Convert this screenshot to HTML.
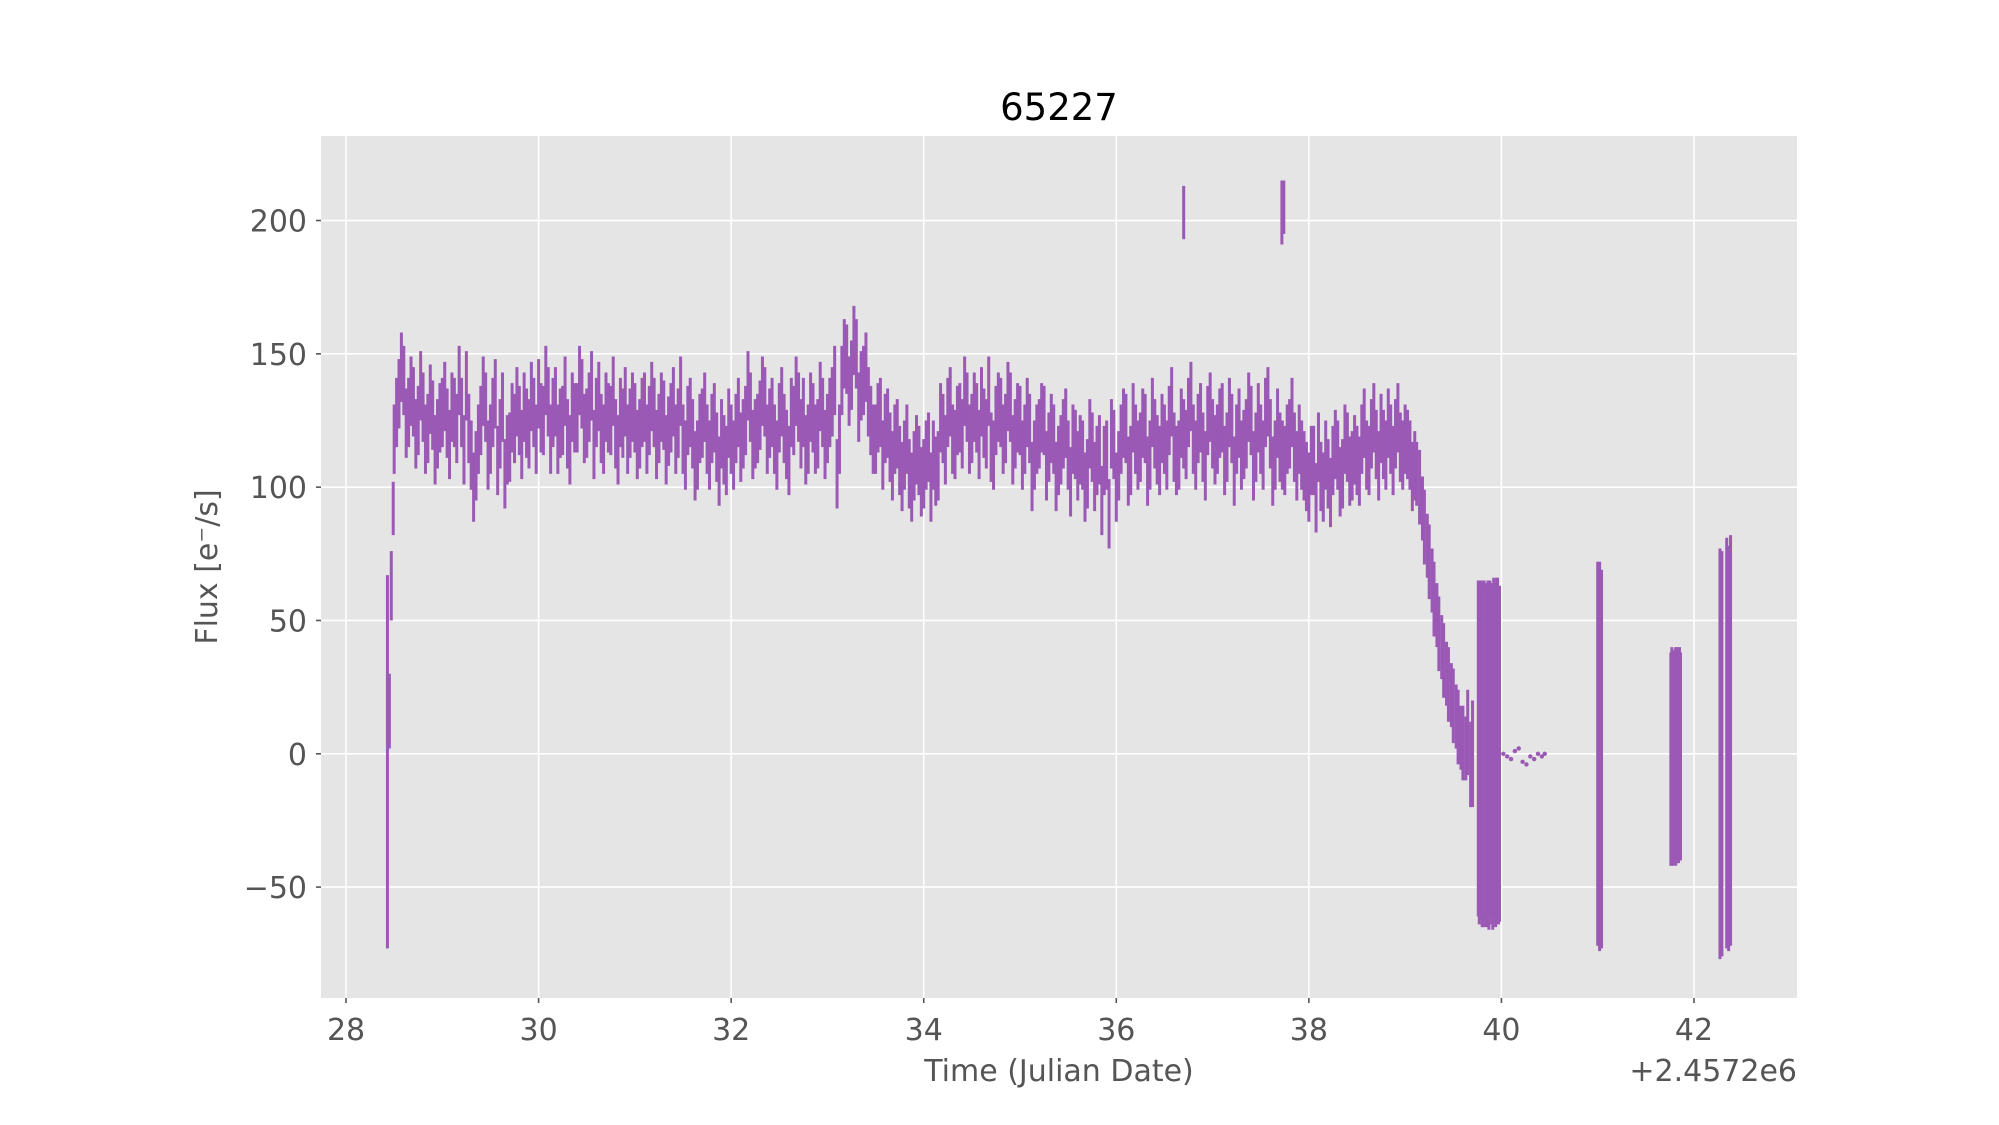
<!DOCTYPE html>
<html><head><meta charset="utf-8"><style>
html,body{margin:0;padding:0;background:#fff;}
svg{display:block;font-family:"DejaVu Sans","Liberation Sans",sans-serif;}
</style></head><body>
<svg id="chart" width="1999" height="1125" viewBox="0 0 1999 1125">
<rect x="0" y="0" width="1999" height="1125" fill="#fff"/>
<rect x="321" y="136" width="1476" height="862" fill="#e5e5e5"/>
<g id="grid"></g><g id="ticks"></g><g id="marks"></g>
<text x="1059" y="120" font-size="37" text-anchor="middle" fill="#000">65227</text>
<text x="1059" y="1081" font-size="30" text-anchor="middle" fill="#555">Time (Julian Date)</text>
<text x="1797" y="1081" font-size="30" text-anchor="end" fill="#555">+2.4572e6</text>
<text x="0" y="0" font-size="30" text-anchor="middle" fill="#555" transform="translate(217,567) rotate(-90)">Flux [e⁻/s]</text>
</svg>
<script>
const xTicks=[28,30,32,34,36,38,40,42];
const yTicks=[-50,0,50,100,150,200];
const yTickLabels=["\u221250","0","50","100","150","200"];
const mainFlux=[118,135,140,128,132,125,130,122,127,120,
128,124,130,122,128,138,112,108,125,130,
118,135,120,105,115,122,125,130,120,128,
135,125,132,128,118,125,120,130,126,135,
124,138,128,122,130,125,120,128,132,124,
126,120,130,125,128,122,127,121,132,124,
118,125,120,112,124,118,122,115,120,110,
118,122,115,125,130,120,127,132,124,118,
126,122,110,125,130,128,118,126,120,128,
122,132,105,140,148,142,150,138,145,125,
118,128,122,115,118,110,112,105,108,110,
105,115,112,108,122,128,118,125,120,130,
122,126,132,120,115,125,128,122,130,120,
125,118,122,112,120,125,115,118,110,120,
112,118,108,112,105,115,110,95,112,120,
100,118,122,110,118,115,122,112,120,110,
118,125,115,112,120,128,118,122,115,125,
120,118,126,115,122,118,112,120,125,115,
118,128,120,112,115,110,120,115,118,108,
100,110,115,100,105,110,112,105,115,108,
110,118,112,120,116,122,112,118,120,115,
118,112,108];
const midFlux=[128,145,124,136,120,138,118,133,114,126,
134,116,128,140,114,122,100,118,136,112,
128,110,130,114,126,132,116,124,134,118,
126,140,118,132,124,136,114,126,140,122,
130,116,134,118,126,136,114,124,118,130,
116,128,118,134,116,130,114,126,118,136,
112,128,108,122,130,112,126,106,114,124,
112,128,120,138,116,122,136,118,128,112,
132,116,128,136,120,114,130,118,134,116,
128,140,118,150,136,155,130,140,132,118,
126,112,124,108,120,104,118,100,114,102,
112,100,106,126,114,132,116,126,136,118,
130,116,124,136,112,130,118,134,114,126,
112,128,104,118,126,108,122,104,114,124,
102,116,114,100,120,104,114,110,90,116,
108,124,106,126,112,124,106,128,114,122,
112,132,110,124,116,134,112,126,108,130,
114,124,110,128,106,124,116,130,108,126,
112,132,106,124,112,118,128,108,112,104,
110,96,104,112,98,116,102,118,106,114,
106,124,110,126,108,116,124,110,126,112,
116,104];
const mainStart=28.50, mainStep=0.05, midStart=28.525;
const extraTimes=[28.43,28.45,28.47,28.49,36.70,37.72,37.74,
39.12,39.15,39.18,39.20,39.23,39.25,39.28,39.30,39.33,39.35,39.38,39.40,39.43,39.45,39.48,39.50,39.53,39.55,39.58,39.60,39.63,39.65,39.68,39.70,
39.76,39.77,39.78,39.79,39.80,39.81,39.82,39.83,39.84,39.85,39.86,39.87,39.88,39.89,39.90,39.91,39.92,39.93,39.94,39.95,39.96,39.97,39.98,
40.02,40.06,40.10,40.14,40.18,40.22,40.26,40.30,40.34,40.38,40.42,40.45,
41.00,41.02,41.04,41.76,41.77,41.78,41.79,41.80,41.81,41.82,41.83,41.84,41.85,41.86,42.27,42.29,42.34,42.36,42.38];
const extraFlux=[-3,16,63,92,203,203,205,
105,100,92,85,78,72,65,58,52,45,40,35,30,26,22,18,14,10,6,4,2,8,-4,0,
2,0,3,1,-1,0,2,0,-1,1,0,-2,2,1,0,-1,3,0,-2,1,2,-1,0,
0,-1,-2,1,2,-3,-4,-1,-2,0,-1,0,
0,-1,-2,-2,-1,-2,-1,-1,-1,0,-2,-1,0,-1,0,0,4,2,5];
const extraErr=[70,14,13,10,10,12,10,
12,14,12,14,12,14,12,14,12,14,12,14,12,14,12,14,12,14,12,14,12,16,16,20,
63,64,62,63,64,65,63,62,64,63,65,64,63,62,64,65,63,64,63,65,64,63,63,
1,1,1,1,1,1,1,1,1,1,1,1,
72,73,71,40,41,40,39,40,41,40,39,40,40,39,77,76,77,76,77];
const mainErr=13;

const L=321,R=1797,T=136,B=998, x0=27.74,x1=43.07,y0=-91.6,y1=231.7;
const sx=v=>L+(v-x0)/(x1-x0)*(R-L);
const sy=v=>B-(v-y0)/(y1-y0)*(B-T);
const NS='http://www.w3.org/2000/svg';
const grid=document.getElementById('grid'),ticks=document.getElementById('ticks'),marks=document.getElementById('marks');
function mk(tag,attrs,parent){const e=document.createElementNS(NS,tag);for(const k in attrs)e.setAttribute(k,attrs[k]);parent.appendChild(e);return e;}
xTicks.forEach((t)=>{
  const g=mk('line',{x1:sx(t),x2:sx(t),y1:T,y2:B,stroke:'#fff','stroke-width':1.6},grid);
  
  
  const tk=mk('line',{x1:sx(t),x2:sx(t),y1:B,y2:B+5,stroke:'#555','stroke-width':1.6},ticks);
  
  
  const lb=mk('text',{x:sx(t),y:B+42,'font-size':30,'text-anchor':'middle',fill:'#555'},ticks);
  lb.textContent=String(t);
  
  
});
yTicks.forEach((t,i)=>{
  const g=mk('line',{x1:L,x2:R,y1:sy(t),y2:sy(t),stroke:'#fff','stroke-width':1.6},grid);
  
  
  const tk=mk('line',{x1:L-5,x2:L,y1:sy(t),y2:sy(t),stroke:'#555','stroke-width':1.6},ticks);
  
  
  const lb=mk('text',{x:L-14,y:sy(t)+11,'font-size':30,'text-anchor':'end',fill:'#555'},ticks);
  lb.textContent=yTickLabels[i];
  
  
});
function bar(t,f,e){
  const x=sx(t);
  if(e<=1.5){
    const c=mk('circle',{cx:x,cy:sy(f),r:2.2,fill:'#9b59b6'},marks);
    
    
    return;
  }
  const l=mk('line',{x1:x,x2:x,y1:sy(f-e),y2:sy(f+e),stroke:'#9b59b6','stroke-width':3},marks);
  
  
}
mainFlux.forEach((f,i)=>bar(mainStart+i*mainStep,f,mainErr));
midFlux.forEach((f,i)=>bar(midStart+i*mainStep,f,mainErr));
extraFlux.forEach((f,i)=>bar(extraTimes[i],f,extraErr[i]));
</script>
</body></html>
